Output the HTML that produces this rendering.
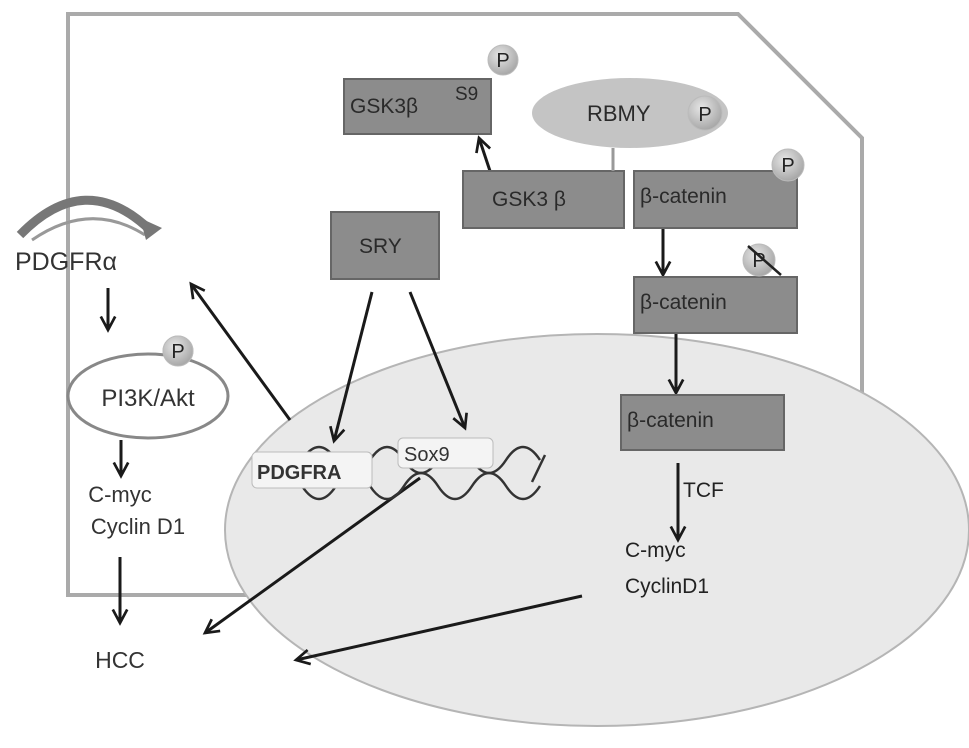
<!DOCTYPE html>
<html><head><meta charset="utf-8"><style>html,body{margin:0;padding:0;background:#fff}svg{display:block}text{font-family:"Liberation Sans",sans-serif}</style></head><body>
<svg width="969" height="748" viewBox="0 0 969 748" xmlns="http://www.w3.org/2000/svg">
<defs>
<marker id="a" viewBox="0 0 20 20" refX="18" refY="10" markerWidth="18" markerHeight="18" markerUnits="userSpaceOnUse" orient="auto" overflow="visible">
<polyline points="3,2 18,10 3,18" fill="none" stroke="#1a1a1a" stroke-width="3"/>
</marker>
<radialGradient id="pg" cx="40%" cy="35%" r="65%"><stop offset="0" stop-color="#e6e6e6"/><stop offset="1" stop-color="#a8a8a8"/></radialGradient>
</defs>
<polygon points="68,14 738,14 862,138 862,595 68,595" fill="#fff" stroke="#aaa" stroke-width="4"/>
<ellipse cx="597" cy="530" rx="372" ry="196" fill="#e9e9e9" stroke="#b5b5b5" stroke-width="2"/>
<g fill="none" stroke="#1a1a1a" stroke-width="3" marker-end="url(#a)">
<line x1="490" y1="171" x2="479" y2="138"/>
<line x1="663" y1="228" x2="663" y2="275"/>
<line x1="676" y1="333" x2="676" y2="393"/>
<line x1="372" y1="292" x2="334" y2="441"/>
<line x1="410" y1="292" x2="465" y2="428"/>
<line x1="678" y1="463" x2="678" y2="540"/>
<line x1="420" y1="478" x2="205" y2="633"/>
<line x1="582" y1="596" x2="296" y2="660"/>
<line x1="290" y1="420" x2="191" y2="284"/>
<line x1="108" y1="288" x2="108" y2="330"/>
<line x1="121" y1="440" x2="121" y2="476"/>
<line x1="120" y1="557" x2="120" y2="623"/>
</g>
<path d="M268,460 Q285,486 302,460 T336,460 T370,460 T404,460 T438,460 T472,460 T506,460 T540,460" fill="none" stroke="#333" stroke-width="2.5"/>
<path d="M268,486 Q285,460 302,486 T336,486 T370,486 T404,486 T438,486 T472,486 T506,486 T540,486" fill="none" stroke="#333" stroke-width="2.5"/>
<line x1="532" y1="482" x2="545" y2="455" stroke="#333" stroke-width="2.5"/>
<rect x="252" y="452" width="120" height="36" rx="5" fill="#f4f4f4" stroke="#bbb"/>
<text x="257" y="479" font-size="20" font-weight="bold" fill="#333">PDGFRA</text>
<rect x="398" y="438" width="95" height="30" rx="5" fill="#f4f4f4" stroke="#bbb"/>
<text x="404" y="461" font-size="20" fill="#333">Sox9</text>
<text x="683" y="497" font-size="21" fill="#222">TCF</text>
<text x="625" y="557" font-size="21" fill="#222">C-myc</text>
<text x="625" y="593" font-size="21" fill="#222">CyclinD1</text>
<g fill="#8c8c8c" stroke="#666" stroke-width="2">
<rect x="344" y="79" width="147" height="55"/>
<rect x="463" y="171" width="161" height="57"/>
<rect x="634" y="171" width="163" height="57"/>
<rect x="331" y="212" width="108" height="67"/>
<rect x="634" y="277" width="163" height="56"/>
<rect x="621" y="395" width="163" height="55"/>
</g>
<line x1="613" y1="148" x2="613" y2="171" stroke="#999" stroke-width="3"/>
<ellipse cx="630" cy="113" rx="98" ry="35" fill="#c4c4c4"/>
<g font-size="21" fill="#2a2a2a">
<text x="350" y="113">GSK3β</text>
<text x="455" y="100" font-size="19">S9</text>
<text x="492" y="206">GSK3 β</text>
<text x="640" y="203">β-catenin</text>
<text x="359" y="253">SRY</text>
<text x="640" y="309">β-catenin</text>
<text x="627" y="427">β-catenin</text>
<text x="587" y="121" font-size="22">RBMY</text>
</g>
<g fill="url(#pg)" stroke="#bbb">
<circle cx="503" cy="60" r="15"/>
<circle cx="705" cy="113" r="17"/>
<circle cx="788" cy="165" r="16"/>
<circle cx="759" cy="260" r="16"/>
<circle cx="178" cy="351" r="15"/>
</g>
<g font-size="20" fill="#222" text-anchor="middle">
<text x="503" y="67">P</text><text x="705" y="121">P</text><text x="788" y="172">P</text><text x="759" y="267">P</text><text x="178" y="358">P</text>
</g>
<line x1="748" y1="246" x2="781" y2="275" stroke="#222" stroke-width="2.5"/>
<path d="M20,235 Q85,168 150,230" fill="none" stroke="#777" stroke-width="9"/>
<path d="M32,240 Q90,200 145,235" fill="none" stroke="#999" stroke-width="3"/>
<polygon points="140,218 162,228 146,240" fill="#777"/>
<text x="15" y="270" font-size="25" fill="#333">PDGFRα</text>
<ellipse cx="148" cy="396" rx="80" ry="42" fill="#fff" stroke="#888" stroke-width="3"/>
<circle cx="178" cy="351" r="15" fill="url(#pg)" stroke="#bbb"/>
<text x="178" y="358" font-size="20" fill="#222" text-anchor="middle">P</text>
<text x="148" y="406" font-size="24" fill="#333" text-anchor="middle">PI3K/Akt</text>
<text x="120" y="502" font-size="22" fill="#333" text-anchor="middle">C-myc</text>
<text x="138" y="534" font-size="22" fill="#333" text-anchor="middle">Cyclin D1</text>
<text x="120" y="668" font-size="23" fill="#333" text-anchor="middle">HCC</text>
</svg>
</body></html>
